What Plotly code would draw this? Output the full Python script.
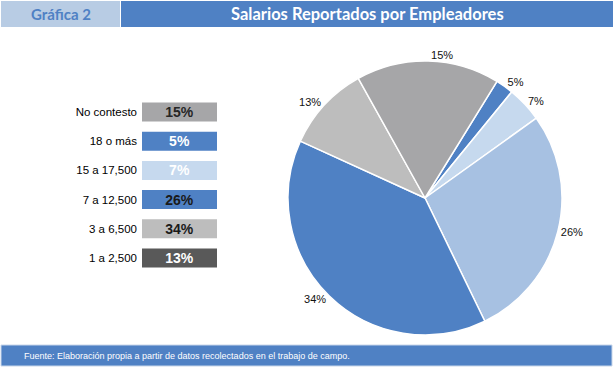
import plotly.graph_objects as go

# ---- data ----
categories = ["No contesto", "18 o más", "15 a 17,500", "7 a 12,500", "3 a 6,500", "1 a 2,500"]
pct_labels = ["15%", "5%", "7%", "26%", "34%", "13%"]
legend_colors = ["#a6a6a8", "#4f81c4", "#c6d9ee", "#4f81c4", "#bdbdbd", "#595959"]
legend_text_colors = ["#262626", "#ffffff", "#ffffff", "#1a1a1a", "#1a1a1a", "#ffffff"]

# pie, clockwise from the small blue slice (slice sizes as drawn in the picture)
pie_labels = ["18 o más", "15 a 17,500", "7 a 12,500", "3 a 6,500", "1 a 2,500", "No contesto"]
pie_text = ["5%", "7%", "26%", "34%", "13%", "15%"]
pie_values = [2.1, 4.2, 27.7, 39.0, 10.1, 16.9]
pie_colors = ["#4f81c4", "#c6d9ee", "#a7c1e2", "#4f81c4", "#bdbdbd", "#a6a6a8"]

title = "Salarios Reportados por Empleadores"
tag = "Gráfica 2"
source = "Fuente: Elaboración propia a partir de datos recolectados en el trabajo de campo."

W, H = 616, 368
def px(x):
    return x / W
def py(y):
    return 1 - y / H

NARROW = "Liberation Sans Narrow, Arial Narrow, Liberation Sans, Arial"
GOTHIC = "Lato, Century Gothic, DejaVu Sans"

fig = go.Figure()

fig.add_trace(go.Pie(
    labels=pie_labels, values=pie_values, text=pie_text,
    textinfo="text", textposition="outside",
    textfont=dict(family=NARROW, size=11, color="#111111"),
    sort=False, direction="clockwise", rotation=31.7,
    marker=dict(colors=pie_colors, line=dict(color="#ffffff", width=1.5)),
    domain=dict(x=[px(288), px(562)], y=[py(335), py(61)]),
    showlegend=False, hoverinfo="label+text",
))

fig.add_trace(go.Bar(
    y=categories, x=[1] * len(categories), orientation="h",
    text=["<b>" + t + "</b>" for t in pct_labels],
    textposition="inside", insidetextanchor="middle", constraintext="none",
    textfont=dict(family=NARROW, size=14, color=legend_text_colors),
    marker=dict(color=legend_colors, line=dict(width=0)),
    width=0.65, showlegend=False, xaxis="x", yaxis="y",
    cliponaxis=False,
))

fig.update_layout(
    width=W, height=H,
    margin=dict(l=0, r=0, t=0, b=0),
    paper_bgcolor="#ffffff", plot_bgcolor="#ffffff",
    xaxis=dict(domain=[px(142), px(217)], range=[0, 1], visible=False, fixedrange=True),
    yaxis=dict(domain=[py(272.6), py(97.4)], autorange="reversed", showgrid=False,
               zeroline=False, showline=False, ticks="",
               tickfont=dict(family=NARROW, size=11.5, color="#000000"),
               ticklabelstandoff=4),
    shapes=[
        dict(type="rect", xref="paper", yref="paper", x0=px(1), x1=px(120), y0=py(27), y1=py(1),
             fillcolor="#b8cce4", line=dict(width=0), layer="below"),
        dict(type="rect", xref="paper", yref="paper", x0=px(121), x1=px(613), y0=py(27), y1=py(1),
             fillcolor="#4f81c4", line=dict(width=0), layer="below"),
        dict(type="rect", xref="paper", yref="paper", x0=px(1), x1=px(612), y0=py(366), y1=py(345),
             fillcolor="#4f81c4", line=dict(color="#c8d6ea", width=1), layer="below"),
    ],
    annotations=[
        dict(text="<b>" + tag + "</b>", x=px(61), y=py(14), xref="paper", yref="paper",
             xanchor="center", yanchor="middle",
             showarrow=False, font=dict(family=GOTHIC, size=15, color="#4f81c4")),
        dict(text="<b>" + title + "</b>", x=px(367), y=py(14), xref="paper", yref="paper",
             xanchor="center", yanchor="middle",
             showarrow=False, font=dict(family=GOTHIC, size=16.5, color="#ffffff")),
        dict(text=source, x=px(22), y=py(355.5), xref="paper", yref="paper",
             xanchor="left", yanchor="middle",
             showarrow=False, font=dict(family=NARROW, size=9, color="#ffffff")),
    ],
)

fig.write_html("out.html", config={"displayModeBar": False},
               post_script="document.body.style.margin='0';")
